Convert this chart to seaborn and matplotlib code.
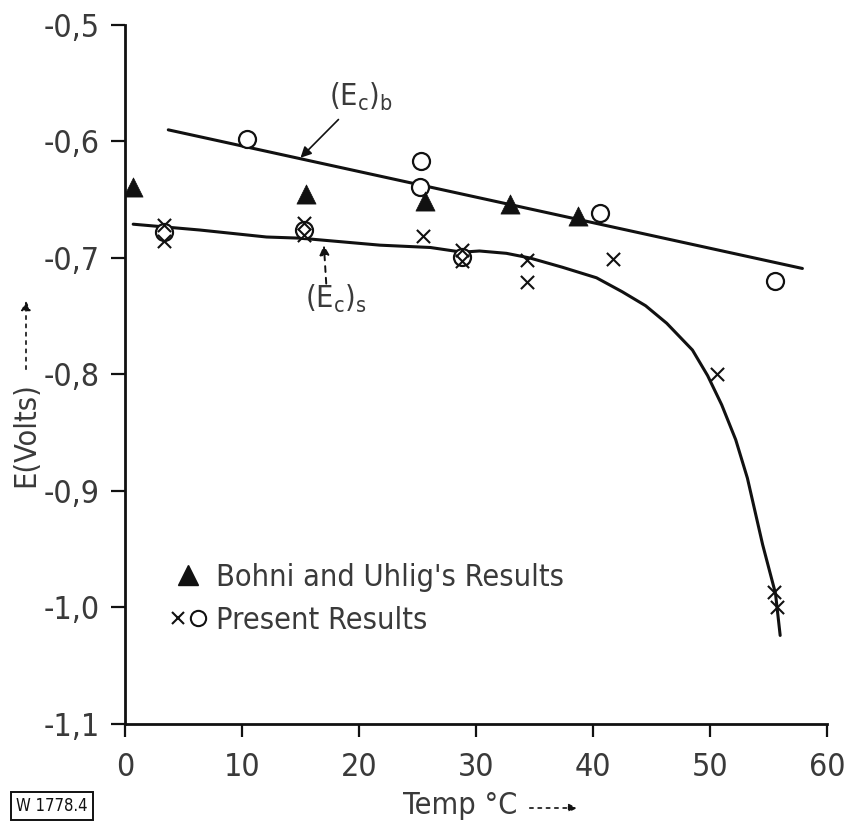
import matplotlib
matplotlib.use("Agg")
import matplotlib.pyplot as plt
import seaborn as sns
import pandas as pd
from matplotlib.lines import Line2D
from matplotlib.legend_handler import HandlerTuple
from matplotlib.patches import FancyArrowPatch

# Bohni and Uhlig's results (filled triangles)
bohni_temp = [0.7, 15.5, 25.6, 32.9, 38.7]
bohni_e = [-0.639, -0.645, -0.651, -0.654, -0.664]

# Present results: open circles
circle_temp = [3.3, 10.4, 15.3, 25.3, 25.2, 28.8, 40.6, 55.6]
circle_e = [-0.678, -0.598, -0.676, -0.617, -0.639, -0.699, -0.661, -0.720]

# Present results: crosses
cross_temp = [3.3, 3.3, 15.3, 15.3, 25.5, 28.8, 28.8, 34.4, 34.4, 41.7, 50.6, 55.5, 55.7]
cross_e = [-0.672, -0.685, -0.670, -0.680, -0.681, -0.693, -0.703, -0.702, -0.721, -0.701,
           -0.800, -0.987, -1.000]

# (Ec)b : straight line through the upper points
line_b_temp = [3.7, 57.9]
line_b_e = [-0.590, -0.709]

# (Ec)s : hand-fitted curve through the lower points
line_s_temp = [0.7, 6.4, 12.1, 15.0, 21.8, 26.1, 28.8, 30.3, 32.6, 34.6, 37.4, 40.3, 42.5,
               44.5, 46.3, 48.5, 49.8, 51.0, 52.2, 53.2, 54.5, 55.6, 56.0]
line_s_e = [-0.671, -0.676, -0.682, -0.683, -0.689, -0.691, -0.695, -0.694, -0.696, -0.700,
            -0.708, -0.717, -0.729, -0.741, -0.756, -0.779, -0.801, -0.826, -0.856, -0.889,
            -0.946, -0.988, -1.024]

x_ticks = [0, 10, 20, 30, 40, 50, 60]
x_tick_labels = ["0", "10", "20", "30", "40", "50", "60"]
y_ticks = [-0.5, -0.6, -0.7, -0.8, -0.9, -1.0, -1.1]
y_tick_labels = ["-0,5", "-0,6", "-0,7", "-0,8", "-0,9", "-1,0", "-1,1"]

sns.set_style("ticks")
plt.rcParams["font.family"] = ["DejaVu Sans"]
plt.rcParams["font.stretch"] = "condensed"
plt.rcParams["mathtext.default"] = "regular"

fig = plt.figure(figsize=(8.48, 8.33), dpi=100)
ax = fig.add_axes([0.1474, 0.1309, 0.8278, 0.8391])

ink = "#111111"
grey = "#3a3a3a"

df_b = pd.DataFrame({"t": line_b_temp, "e": line_b_e})
df_s = pd.DataFrame({"t": line_s_temp, "e": line_s_e})
sns.lineplot(data=df_b, x="t", y="e", ax=ax, color=ink, lw=2.2, sort=False, estimator=None)
sns.lineplot(data=df_s, x="t", y="e", ax=ax, color=ink, lw=2.2, sort=False, estimator=None)

sns.scatterplot(x=bohni_temp, y=bohni_e, ax=ax, marker="^", s=190, color=ink,
                edgecolor=ink, linewidth=0.5, zorder=5)
sns.scatterplot(x=circle_temp, y=circle_e, ax=ax, marker="o", s=150, facecolor="white",
                edgecolor=ink, linewidth=1.6, zorder=4)
sns.scatterplot(x=cross_temp, y=cross_e, ax=ax, marker="x", s=90, color=ink,
                linewidth=1.5, zorder=6)

ax.set_xlim(0, 60)
ax.set_ylim(-1.1, -0.5)
ax.set_xticks(x_ticks)
ax.set_xticklabels(x_tick_labels)
ax.set_yticks(y_ticks)
ax.set_yticklabels(y_tick_labels)
ax.tick_params(axis="both", labelsize=23, labelcolor=grey, color=ink, width=1.6)
ax.tick_params(axis="y", length=10, pad=8)
ax.tick_params(axis="x", length=9, pad=11)
sns.despine(ax=ax)
for side in ("left", "bottom"):
    ax.spines[side].set_linewidth(2.0)
    ax.spines[side].set_color(ink)
ax.set_xlabel("")
ax.set_ylabel("")

# curve labels
ax.annotate("(E$_c$)$_b$", xy=(15.0, -0.614), xytext=(17.4, -0.562), fontsize=22,
            color=grey, ha="left", va="center",
            arrowprops=dict(arrowstyle="-|>", color=ink, lw=1.2, shrinkA=3, shrinkB=0,
                            mutation_scale=16))
ax.annotate("(E$_c$)$_s$", xy=(17.0, -0.690), xytext=(15.4, -0.735), fontsize=22,
            color=grey, ha="left", va="center")
ax.annotate("", xy=(17.0, -0.689), xytext=(17.2, -0.722),
            arrowprops=dict(arrowstyle="-|>", color=ink, lw=1.4, ls=(0, (3, 3)),
                            shrinkA=0, shrinkB=0, mutation_scale=14))

# legend
h_tri = Line2D([], [], marker="^", ls="none", color=ink, markersize=14)
h_x = Line2D([], [], marker="x", ls="none", color=ink, markersize=9, mew=1.5)
h_o = Line2D([], [], marker="o", ls="none", mfc="white", mec=ink, markersize=11, mew=1.5)
leg = ax.legend([h_tri, (h_x, h_o)], ["Bohni and Uhlig's Results", "Present Results"],
                handler_map={tuple: HandlerTuple(ndivide=None, pad=0.1)},
                loc="upper left", bbox_to_anchor=(0.045, 0.248), frameon=False,
                fontsize=22, handlelength=1.25, handletextpad=0.3, labelspacing=0.45,
                borderaxespad=0)
for t in leg.get_texts():
    t.set_color(grey)

# axis titles with trailing arrows
fig.text(26 / 848, 1 - 435 / 833, "E(Volts)", rotation=90, fontsize=22, color=grey,
         ha="center", va="center")
fig.add_artist(FancyArrowPatch(
    (26 / 848, 1 - 372 / 833), (26 / 848, 1 - 298 / 833), transform=fig.transFigure,
    arrowstyle="-|>", mutation_scale=14, color=ink, lw=1.2, ls=(0, (2, 3))))

fig.text(460 / 848, 1 - 806 / 833, "Temp °C", fontsize=22, color=grey,
         ha="center", va="center")
fig.add_artist(FancyArrowPatch(
    (527 / 848, 1 - 808 / 833), (580 / 848, 1 - 808 / 833), transform=fig.transFigure,
    arrowstyle="-|>", mutation_scale=12, color=ink, lw=1.2, ls=(0, (2, 3))))

fig.text(52 / 848, 1 - 806 / 833, "W 1778.4", fontsize=12, color=ink,
         ha="center", va="center",
         bbox=dict(boxstyle="square,pad=0.3", fc="white", ec=ink, lw=1.4))

fig.savefig("out.png", dpi=100, facecolor="white")
